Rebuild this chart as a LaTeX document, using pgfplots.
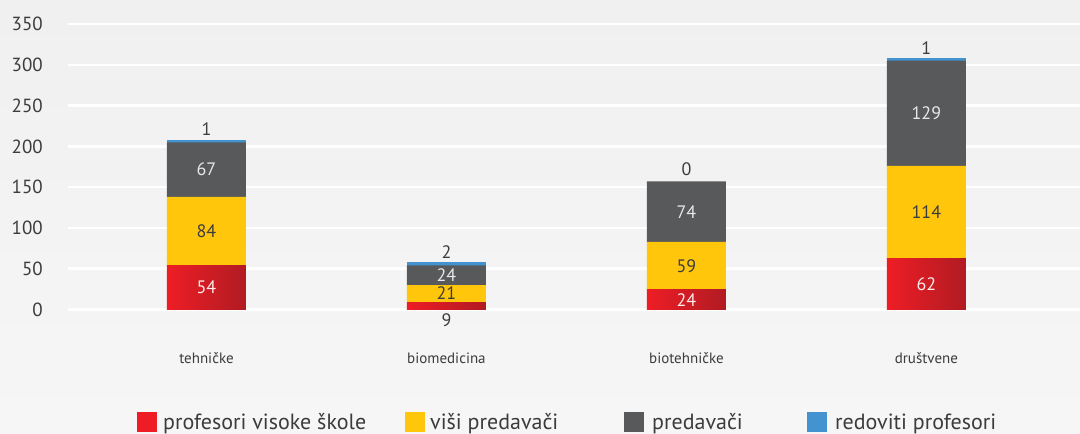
\documentclass[border=0pt]{standalone}
\usepackage{pgfplots}
\pgfplotsset{compat=1.18}
\usepackage{fontspec}
\setmainfont{PT Sans}
\definecolor{cred}{HTML}{EE1D25}
\definecolor{cdred}{HTML}{B11B23}
\definecolor{cyel}{HTML}{FFC60B}
\definecolor{cgray}{HTML}{58595B}
\definecolor{cblue}{HTML}{4393D0}
\definecolor{ctxt}{HTML}{3C3C3E}
\definecolor{clight}{HTML}{E8E8E8}
\definecolor{bgtop}{HTML}{F0F0F1}
\definecolor{bgbot}{HTML}{F6F6F6}

\pgfplotstableread{
x y l
0 27 54
2 12 24
3 31 62
}\labred
\pgfplotstableread{
x y l
0 96 84
1 19.5 21
2 53.5 59
3 119 114
}\labyel
\pgfplotstableread{
x y l
0 171.5 67
1 42 24
2 120 74
3 240.5 129
}\labgray
\pgfplotstableread{
x y l
0 206 1
1 56 2
2 157 0
3 306 1
}\labtop
\pgfplotstableread{
x y l
1 0 9
}\labbelow

\begin{document}
\begin{tikzpicture}[x=1pt,y=1pt]
\useasboundingbox (0,0) rectangle (1080,434);
\shade[top color=bgtop,bottom color=bgbot] (0,0) rectangle (1080,434);
\pgfplotsset{
  base/.style={
    at={(68pt,124.5pt)}, anchor=south west, scale only axis,
    width=1012pt, height=285.5pt,
    xmin=-0.577, xmax=3.64, ymin=0, ymax=350,
  }
}
\begin{axis}[base, ybar stacked, bar width=79pt,
  ytick={0,50,...,350}, xtick={0,1,2,3},
  xticklabels={tehničke, biomedicina, biotehničke, društvene},
  axis line style={draw=none}, tick style={draw=none},
  ymajorgrids, grid style={white, line width=2.5pt},
  yticklabel style={font=\fontsize{19}{19}\selectfont, text=ctxt, anchor=east, inner sep=0pt, xshift=-25pt},
  xticklabel style={font=\fontsize{15}{15}\selectfont, text=ctxt, anchor=base, inner sep=0pt, yshift=-54.5pt},
  /pgf/number format/assume math mode=true,
]
% red segments: base of the stack (drawn with a shading in the overlay axis below)
\addplot[draw=none, fill=none] coordinates {(0,54) (1,9) (2,24) (3,62)};
\addplot[draw=none, fill=cyel] coordinates {(0,84) (1,21) (2,59) (3,114)};
\addplot[draw=none, fill=cgray] coordinates {(0,67) (1,24) (2,74) (3,129)};
\addplot[draw=cblue, fill=cblue, line width=3pt, bar width=76pt] coordinates {(0,1) (1,2) (2,0) (3,1)};
\end{axis}
% red segments, each bar with its own left-to-right shading
\begin{axis}[base, hide axis, ybar, bar width=79pt]
\addplot[draw=none, bar shift=0pt, left color=cred, right color=cdred] coordinates {(0,54)};
\addplot[draw=none, bar shift=0pt, left color=cred, right color=cdred] coordinates {(1,9)};
\addplot[draw=none, bar shift=0pt, left color=cred, right color=cdred] coordinates {(2,24)};
\addplot[draw=none, bar shift=0pt, left color=cred, right color=cdred] coordinates {(3,62)};
\end{axis}
\begin{axis}[base, hide axis, clip=false, point meta=explicit symbolic,
  nodes near coords, every node near coord/.append style={font=\fontsize{18}{18}\selectfont, inner sep=0pt}]
\addplot[color=clight, draw=none, mark=none, every node near coord/.append style={anchor=center, text=white!92!red}] table[meta=l] {\labred};
\addplot[color=ctxt, draw=none, mark=none, every node near coord/.append style={anchor=center, text=ctxt}] table[meta=l] {\labyel};
\addplot[color=clight, draw=none, mark=none, every node near coord/.append style={anchor=center, text=clight}] table[meta=l] {\labgray};
\addplot[color=ctxt, draw=none, mark=none, every node near coord/.append style={anchor=south, yshift=5.5pt, text=ctxt}] table[meta=l] {\labtop};
\addplot[color=ctxt, draw=none, mark=none, every node near coord/.append style={anchor=north, yshift=-3.5pt, text=ctxt}] table[meta=l] {\labbelow};
\end{axis}
\begin{scope}[every node/.style={font=\fontsize{22}{22}\selectfont, text=ctxt, anchor=base west, inner sep=0pt}]
\fill[cred] (137,2) rectangle (157,22);
\node at (163,4) {profesori visoke škole};
\fill[cyel] (405,2) rectangle (425,22);
\node at (430,4) {viši predavači};
\fill[cgray] (624,2) rectangle (644,22);
\node at (652,4) {predavači};
\fill[cblue] (807,2) rectangle (827,22);
\node at (835,4) {redoviti profesori};
\end{scope}
\end{tikzpicture}
\end{document}
